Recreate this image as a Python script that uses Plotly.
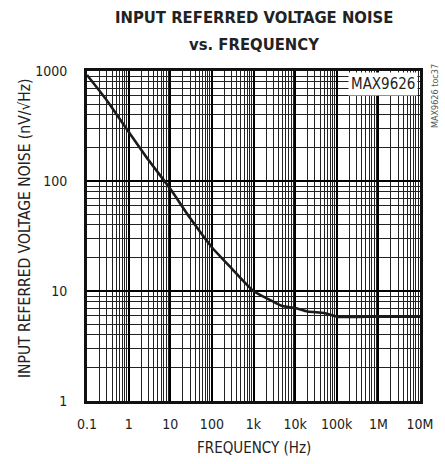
import plotly.graph_objects as go

freq_hz = [0.1, 0.3, 1, 3, 10, 30, 100, 300, 1000, 3000, 5000, 10000, 20000, 50000, 100000, 1000000, 10000000]
noise_nv = [920, 540, 280, 155, 85, 46, 25, 16, 10, 8.0, 7.3, 7.0, 6.5, 6.3, 5.85, 5.85, 5.85]

x_tick_vals = [0.1, 1, 10, 100, 1000, 10000, 100000, 1000000, 10000000]
x_tick_text = ["0.1", "1", "10", "100", "1k", "10k", "100k", "1M", "10M"]
y_tick_vals = [1, 10, 100, 1000]
y_tick_text = ["1", "10", "100", "1000"]

FONT = "DejaVu Sans Condensed, Liberation Sans Narrow, Liberation Sans, sans-serif"

fig = go.Figure()
fig.add_trace(go.Scatter(x=freq_hz, y=noise_nv, mode="lines",
                         line=dict(color="#1a1a1a", width=2.6, shape="spline", smoothing=0.6),
                         showlegend=False, hoverinfo="skip"))

fig.update_layout(
    width=445, height=464,
    margin=dict(l=87, r=25, t=71, b=63),
    paper_bgcolor="white", plot_bgcolor="white",
    font=dict(family=FONT, color="#222", size=14),
)

fig.update_xaxes(type="log", range=[-1, 7],
                 tickvals=x_tick_vals, ticktext=x_tick_text, ticks="",
                 showgrid=True, gridcolor="#000", gridwidth=2,
                 minor=dict(dtick="D1", showgrid=True, gridcolor="#222", gridwidth=1, ticks=""),
                 showline=True, linecolor="#111", linewidth=2.8, mirror=True,
                 tickfont=dict(size=14), ticklabelstandoff=8,
                 zeroline=False)
fig.update_yaxes(type="log", range=[0, 3],
                 tickvals=y_tick_vals, ticktext=y_tick_text, ticks="",
                 showgrid=True, gridcolor="#000", gridwidth=2,
                 minor=dict(dtick="D1", showgrid=True, gridcolor="#222", gridwidth=1, ticks=""),
                 showline=True, linecolor="#111", linewidth=2.8, mirror=True,
                 tickfont=dict(size=14), ticklabelstandoff=14,
                 zeroline=False)

# titles
fig.add_annotation(xref="paper", yref="paper", x=0.5, y=1, yshift=71 - 17,
                   text="<b>INPUT REFERRED VOLTAGE NOISE</b>", showarrow=False,
                   xanchor="center", yanchor="middle", font=dict(size=16.5, color="#222"))
fig.add_annotation(xref="paper", yref="paper", x=0.5, y=1, yshift=71 - 44,
                   text="<b>vs. FREQUENCY</b>", showarrow=False,
                   xanchor="center", yanchor="middle", font=dict(size=16.5, color="#222"))
fig.add_annotation(xref="paper", yref="paper", x=0.5, y=0, yshift=-(448 - 401),
                   text="FREQUENCY (Hz)", showarrow=False,
                   xanchor="center", yanchor="middle", font=dict(size=15, color="#222"))
fig.add_annotation(xref="paper", yref="paper", x=0, xshift=-(87 - 25), y=0.5, yshift=236 - 228,
                   text="INPUT REFERRED VOLTAGE NOISE (nV/√Hz)", showarrow=False, textangle=-90,
                   xanchor="center", yanchor="middle", font=dict(size=15.5, color="#222"))

fig.add_annotation(xref="paper", yref="paper", x=0.995, y=0.997, xanchor="right", yanchor="top",
                   text="MAX9626", showarrow=False, bgcolor="white",
                   font=dict(size=15, color="#222"), borderpad=2)
fig.add_annotation(xref="paper", yref="paper", x=1, xshift=15, y=1, yshift=71 - 96,
                   xanchor="center", yanchor="middle",
                   text="MAX9626 toc37", showarrow=False, textangle=-90,
                   font=dict(size=9, color="#555"))

fig.write_html("out.html", config={"displayModeBar": False},
               post_script="document.body.style.margin='0';")
